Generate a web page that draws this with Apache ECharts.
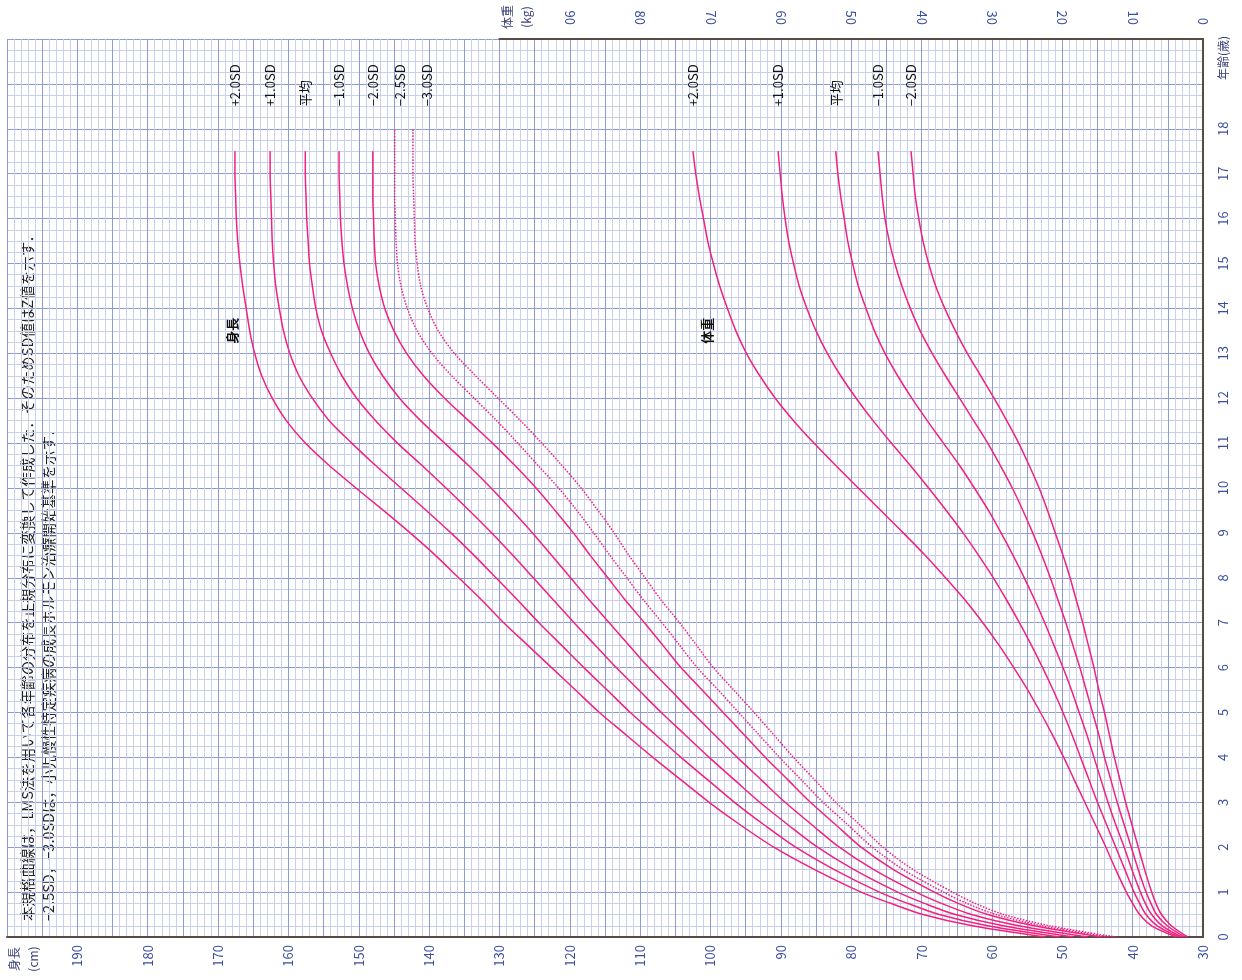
<!DOCTYPE html>
<html><head><meta charset="utf-8">
<script src="https://cdn.jsdelivr.net/npm/echarts@6/dist/echarts.min.js"></script>
<style>html,body{margin:0;padding:0;background:#fff}#c{width:1242px;height:980px}</style>
</head><body><div id="c"></div>
<script>
// ---- data ----
const ages = [0,0.25,0.5,0.75,1,1.5,2,2.5,3,3.5,4,4.5,5,5.5,6,6.5,7,7.5,8,8.5,9,9.5,10,10.5,11,11.5,12,12.5,13,13.5,14,14.5,15,15.5,16,16.5,17,17.5,18];

const heightP2  = [52.4,62.8,69.8,74.4,78.6,85.2,91.0,95.8,100.2,104.2,108.2,112.0,115.8,119.2,122.6,126.0,129.4,132.5,135.8,139.1,142.7,146.5,150.4,154.2,157.6,160.3,162.3,163.8,164.8,165.5,166.0,166.5,166.9,167.2,167.4,167.5,167.6,167.6,null];
const heightP1  = [50.4,60.6,67.5,72.0,76.0,82.4,87.9,92.4,96.6,100.4,104.2,107.8,111.4,114.7,118.0,121.2,124.4,127.4,130.5,133.6,136.9,140.4,144.0,147.6,151.0,154.2,156.6,158.5,159.8,160.7,161.3,161.8,162.1,162.3,162.4,162.5,162.6,162.6,null];
const heightM   = [48.4,58.4,65.2,69.6,73.4,79.6,84.8,89.0,93.0,96.6,100.2,103.6,107.0,110.2,113.4,116.4,119.4,122.3,125.2,128.1,131.1,134.3,137.6,141.0,144.5,147.6,150.3,152.4,154.0,155.3,156.1,156.6,157.0,157.2,157.4,157.5,157.6,157.6,null];
const heightM1  = [46.4,56.2,62.9,67.2,70.8,76.8,81.7,85.6,89.4,92.8,96.2,99.4,102.6,105.7,108.8,111.6,114.4,117.2,119.9,122.6,125.3,128.2,131.2,134.4,137.8,141.2,144.2,146.6,148.5,149.9,150.9,151.6,152.1,152.4,152.6,152.7,152.8,152.8,null];
const heightM2  = [44.4,54.0,60.6,64.8,68.2,74.0,78.6,82.2,85.8,89.0,92.2,95.2,98.2,101.2,104.2,106.8,109.4,112.1,114.6,117.1,119.5,122.1,124.8,127.8,131.0,134.4,137.8,140.8,143.2,145.0,146.3,147.1,147.6,147.8,147.9,148.0,148.0,148.0,null];
const heightM25 = [43.4,52.9,59.4,63.6,66.9,72.6,77.0,80.5,84.0,87.1,90.2,93.1,96.0,98.9,101.9,104.4,106.9,109.5,111.9,114.3,116.6,119.0,121.6,124.5,127.4,130.4,133.6,136.8,139.6,141.7,143.1,144.0,144.5,144.7,144.8,144.9,144.9,144.9,144.9];
const heightM3  = [42.4,51.8,58.3,62.4,65.6,71.2,75.5,78.8,82.2,85.2,88.2,91.0,93.8,96.7,99.6,102.0,104.4,107.0,109.3,111.6,113.7,116.0,118.4,121.1,124.0,127.0,130.2,133.4,136.4,138.7,140.2,141.2,141.7,142.0,142.1,142.2,142.3,142.3,142.3];

const weightP2 = [3.8,7.3,9.0,10.0,10.9,12.4,13.8,15.3,16.8,18.3,19.8,21.4,23.1,24.9,26.9,29.0,31.3,33.8,36.6,39.5,42.6,45.8,49.0,52.2,55.3,58.2,60.8,63.0,64.9,66.4,67.6,68.7,69.6,70.4,71.0,71.6,72.1,72.5,null];
const weightP1 = [3.4,6.5,8.1,9.0,9.8,11.1,12.4,13.7,15.0,16.2,17.4,18.6,19.9,21.3,22.8,24.4,26.1,27.9,29.8,31.9,34.1,36.5,39.0,41.6,44.3,46.9,49.3,51.5,53.4,55.0,56.3,57.4,58.2,58.9,59.4,59.8,60.1,60.4,null];
const weightM  = [3.0,5.8,7.3,8.2,8.9,10.1,11.2,12.4,13.5,14.5,15.5,16.5,17.6,18.7,19.9,21.2,22.5,23.9,25.4,27.0,28.7,30.5,32.5,34.6,36.9,39.2,41.4,43.4,45.2,46.7,47.9,49.0,49.8,50.5,51.0,51.5,51.9,52.2,null];
const weightM1 = [2.6,5.1,6.6,7.4,8.1,9.2,10.2,11.2,12.2,13.1,14.0,14.8,15.7,16.6,17.5,18.5,19.5,20.6,21.7,22.9,24.2,25.6,27.1,28.8,30.6,32.6,34.6,36.6,38.5,40.2,41.6,42.8,43.8,44.6,45.2,45.6,45.9,46.2,null];
const weightM2 = [2.2,4.5,5.9,6.7,7.3,8.3,9.2,10.1,11.0,11.8,12.6,13.3,14.0,14.8,15.5,16.3,17.1,18.0,18.9,19.9,21.0,22.1,23.3,24.7,26.2,27.9,29.7,31.6,33.5,35.2,36.7,38.0,39.0,39.8,40.4,40.9,41.2,41.5,null];

const heightTickLabels = [30,40,50,60,70,80,90,100,110,120,130,140,150,160,170,180,190];
const weightTickLabels = [0,10,20,30,40,50,60,70,80,90];
const ageTickLabels = [0,1,2,3,4,5,6,7,8,9,10,11,12,13,14,15,16,17,18];

const note1 = '本規格曲線は，LMS法を用いて各年齢の分布を正規分布に変換して作成した．そのためSD値はZ値を示す．';
const note2 = '−2.5SD，−3.0SDは，小児慢性特定疾病の成長ホルモン治療開始基準を示す．';

// ---- styles ----
const PINK = '#f2207f';
const TICK = '#3b4e9e';
const NAME = '#3a3f7a';
const MAJOR = '#8e9bd0';
const MINOR = '#c8d0ed';
const DARK = '#5a4b42';
const FONT = '"Noto Sans CJK JP", "Noto Sans", sans-serif';
const LABEL_AGE = 18.5;

// label offsets are in the rotated frame: [along text, across text]; across +ve = screen right
function curve(name, vals, axis, dotted, dx) {
  const data = [];
  vals.forEach((v, i) => { if (v != null) data.push([v, ages[i]]); });
  const last = data[data.length - 1];
  return {
    type: 'line', name, xAxisIndex: axis, yAxisIndex: axis, data,
    symbol: 'none', smooth: 0.3, silent: true, animation: false,
    lineStyle: { color: PINK, width: 1.5, type: dotted ? 'dotted' : 'solid' },
    markPoint: {
      symbol: 'circle', symbolSize: 1, silent: true, animation: false,
      itemStyle: { color: 'rgba(0,0,0,0)' },
      data: [{ coord: [last[0], LABEL_AGE] }],
      label: { show: true, formatter: name, rotate: 90, position: 'inside', align: 'left', verticalAlign: 'middle',
               color: '#111', fontSize: 13, fontFamily: FONT, offset: [0, dx || 0] }
    }
  };
}

function tag(series, vals, idx, text, dx) {
  series.markPoint.data.push({
    coord: [vals[idx], ages[idx]],
    label: { show: true, formatter: text, rotate: 90, position: 'inside', align: 'center', verticalAlign: 'middle',
             color: '#111', fontSize: 13, fontWeight: 'bold', fontFamily: FONT, offset: [0, dx] }
  });
  return series;
}

const idx135 = ages.indexOf(13.5);
const series = [
  tag(curve('+2.0SD', heightP2, 0, false), heightP2, idx135, '身長', -18),
  curve('+1.0SD', heightP1, 0, false),
  curve('平均', heightM, 0, false),
  curve('−1.0SD', heightM1, 0, false),
  curve('−2.0SD', heightM2, 0, false),
  curve('−2.5SD', heightM25, 0, true, 5),
  curve('−3.0SD', heightM3, 0, true, 14),
  tag(curve('+2.0SD', weightP2, 1, false), weightP2, idx135, '体重', -29),
  curve('+1.0SD', weightP1, 1, false),
  curve('平均', weightM, 1, false),
  curve('−1.0SD', weightM1, 1, false),
  curve('−2.0SD', weightM2, 1, false)
];

const chart = echarts.init(document.getElementById('c'), null, { renderer: 'canvas' });
const W = 1242, H = 980;
const gl = 7, gr = 39, gt = 39, gb = 43;
const plotW = W - gl - gr;
const weightLeft = gl + plotW * (200 - 130) / 170;

const labelStyle = { color: TICK, fontSize: 13, fontFamily: FONT };

chart.setOption({
  animation: false,
  backgroundColor: '#fff',
  textStyle: { fontFamily: FONT },
  grid: [
    { left: gl, right: gr, top: gt, bottom: gb, containLabel: false, outerBoundsMode: 'none' },
    { left: weightLeft, right: gr, top: gt, bottom: gb, containLabel: false, outerBoundsMode: 'none' }
  ],
  xAxis: [
    { type: 'value', gridIndex: 0, min: 30, max: 200, interval: 5, inverse: true, position: 'bottom',
      axisLine: { show: true, onZero: false, lineStyle: { color: DARK, width: 2 } },
      axisTick: { show: false },
      axisLabel: { ...labelStyle, rotate: 90, margin: 8,
        formatter: v => heightTickLabels.includes(v) ? String(v) : '' },
      splitLine: { show: true, lineStyle: { color: MAJOR, width: 1 } },
      minorTick: { show: false, splitNumber: 5 },
      minorSplitLine: { show: true, lineStyle: { color: MINOR, width: 1 } }
    },
    { type: 'value', gridIndex: 1, min: 0, max: 100, interval: 10, inverse: true, position: 'top',
      axisLine: { show: true, onZero: false, lineStyle: { color: DARK, width: 2 } },
      axisTick: { show: false },
      axisLabel: { ...labelStyle, rotate: 90, margin: 14,
        formatter: v => weightTickLabels.includes(v) ? String(v) : '' },
      splitLine: { show: false }
    }
  ],
  yAxis: [
    { type: 'value', gridIndex: 0, min: 0, max: 20, interval: 1, position: 'right',
      axisLine: { show: true, onZero: false, lineStyle: { color: DARK, width: 2 } },
      axisTick: { show: false },
      axisLabel: { ...labelStyle, rotate: 90, margin: 14,
        formatter: v => ageTickLabels.includes(v) ? String(v) : '' },
      splitLine: { show: true, lineStyle: { color: MAJOR, width: 1 } },
      minorTick: { show: false, splitNumber: 4 },
      minorSplitLine: { show: true, lineStyle: { color: MINOR, width: 1 } }
    },
    { type: 'value', gridIndex: 1, min: 0, max: 20, show: false, splitLine: { show: false } }
  ],
  graphic: [
    { type: 'text', x: 24, y: 959, rotation: Math.PI / 2, silent: true,
      style: { text: '身長\n(cm)', fill: NAME, fontSize: 12, fontFamily: FONT, lineHeight: 19, align: 'center', verticalAlign: 'middle' } },
    { type: 'text', x: 517, y: 17, rotation: Math.PI / 2, silent: true,
      style: { text: '体重\n(kg)', fill: NAME, fontSize: 12, fontFamily: FONT, lineHeight: 19, align: 'center', verticalAlign: 'middle' } },
    { type: 'text', x: 1223, y: 58, rotation: Math.PI / 2, silent: true,
      style: { text: '年齢(歳)', fill: NAME, fontSize: 12, fontFamily: FONT, align: 'center', verticalAlign: 'middle' } },
    { type: 'text', x: 27, y: 921, rotation: Math.PI / 2, silent: true,
      style: { text: note1, fill: '#222', fontSize: 14.5, fontFamily: FONT, align: 'left', verticalAlign: 'middle' } },
    { type: 'text', x: 48, y: 921, rotation: Math.PI / 2, silent: true,
      style: { text: note2, fill: '#222', fontSize: 14.5, fontFamily: FONT, align: 'left', verticalAlign: 'middle' } }
  ],
  series
});
</script></body></html>
